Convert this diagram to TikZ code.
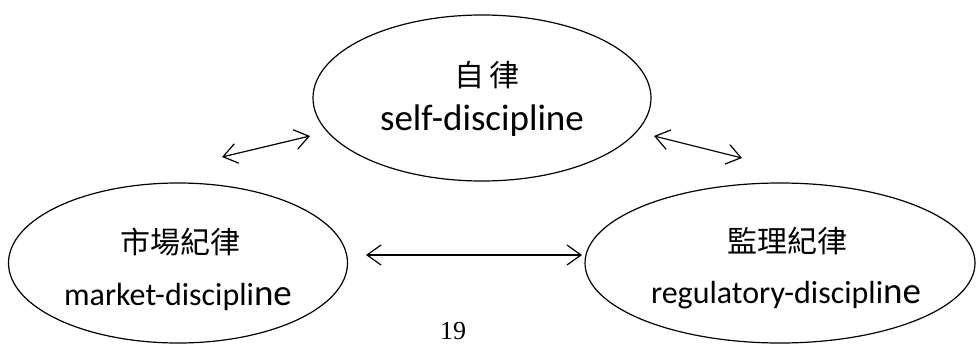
\documentclass[tikz,border=0pt]{standalone}
\usepackage{fontspec}
\setmainfont{Carlito}
\newfontfamily\cjk{Noto Sans CJK TC}
\newfontfamily\serifnum{Liberation Serif}
\usetikzlibrary{shapes.geometric,arrows.meta}
\tikzset{
  bubble/.style={draw, ellipse, line width=1.2pt, inner sep=0pt},
  lab/.style={inner sep=0pt, font=\fontsize{32}{34}\selectfont},
  toplab/.style={inner sep=0pt, font=\fontsize{37}{39}\selectfont},
  cjklab/.style={inner sep=0pt, font=\cjk\fontsize{30}{32}\selectfont},
  link/.style={line width=1.2pt, {Straight Barb[length=14pt,width=20pt,line width=1.2pt]}-{Straight Barb[length=14pt,width=20pt,line width=1.2pt]}}
}
\newcommand{\bigne}{{\fontsize{37}{39}\selectfont ne}}
\begin{document}
\begin{tikzpicture}[x=1pt,y=-1pt]
\useasboundingbox (0,0) rectangle (976,345);
\node[bubble, minimum width=338pt, minimum height=166pt] (self) at (482,98) {};
\node[bubble, minimum width=339pt, minimum height=160pt] (market) at (178,263) {};
\node[bubble, minimum width=390pt, minimum height=160pt] (reg) at (780,263) {};
\node[cjklab] (selfzh) at (487,75) {自\hspace{5pt}律};
\node[toplab] (selfen) at (482,121) {self-discipline};
\node[cjklab] (marketzh) at (180,242) {市場紀律};
\node[lab] (marketen) at (178,297) {market-discipli\bigne};
\node[cjklab] (regzh) at (787,241) {監理紀律};
\node[lab] (regen) at (786,295) {regulatory-discipli\bigne};
\coordinate (a1) at (222,157);
\coordinate (a2) at (310,136);
\coordinate (b1) at (654,136);
\coordinate (b2) at (742,158);
\coordinate (c1) at (366,255);
\coordinate (c2) at (582,255);
\draw[link] (a1) -- (a2);
\draw[link] (b1) -- (b2);
\draw[link] (c1) -- (c2);
\node[inner sep=0pt, font=\serifnum\fontsize{26}{28}\selectfont] (page) at (453,331) {19};
\end{tikzpicture}
\end{document}
